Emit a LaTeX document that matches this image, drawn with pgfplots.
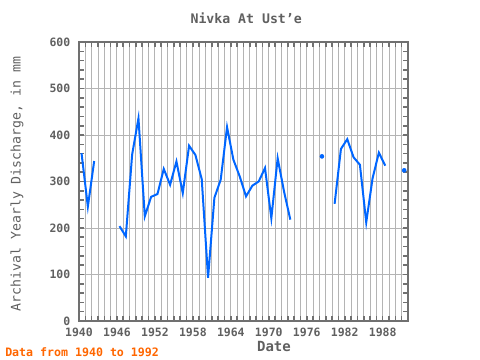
\documentclass[border=0pt]{standalone}
\usepackage{pgfplots}
\pgfplotsset{compat=1.18}
\usepackage{pgfplotstable}
\usepackage{fontspec}
\setmainfont{DejaVu Sans Mono}
\definecolor{lineblue}{HTML}{0066FF}
\definecolor{framegray}{HTML}{707070}
\definecolor{gridgray}{HTML}{B4B4B4}
\definecolor{txtgray}{HTML}{606060}
\definecolor{noteorange}{HTML}{FF6600}
\pgfplotstableread{
year val
1940 361
1941 246
1942 344
1943 nan
1946 204
1947 182
1948 358
1949 436
1950 225
1951 267
1952 273
1953 327
1954 293
1955 343
1956 275
1957 377
1958 357
1959 305
1960 93
1961 265
1962 304
1963 417
1964 347
1965 311
1966 268
1967 291
1968 300
1969 329
1970 221
1971 350
1972 279
1973 218
1974 nan
1980 252
1981 370
1982 391
1983 352
1984 336
1985 212
1986 307
1987 362
1988 334
}\maindata
\pgfplotstableread{
year val
1978 354
1991 324
}\isodata
\begin{document}
\begin{tikzpicture}
\path[use as bounding box] (-59.25pt,-29.25pt) rectangle (300.75pt,240.75pt);
\begin{axis}[
  at={(0,0)}, anchor=south west,
  scale only axis,
  width=246.75pt, height=209.25pt,
  xmin=1940, xmax=1992,
  ymin=0, ymax=600,
  xtick={1940,1946,1952,1958,1964,1970,1976,1982,1988},
  minor xtick={1940,1941,...,1992},
  ytick={0,100,200,300,400,500,600},
  minor ytick={0,20,...,600},
  xmajorgrids, xminorgrids, ymajorgrids,
  major grid style={draw=gridgray, line width=0.7pt},
  minor grid style={draw=gridgray, line width=0.7pt},
  tick align=inside,
  xtick pos=both, ytick pos=both,
  major tick length=4pt,
  minor tick length=3.5pt,
  major tick style={draw=framegray, line width=1.2pt},
  minor tick style={draw=framegray, line width=1.2pt},
  axis line style={framegray, line width=1.5pt},
  /pgf/number format/assume math mode=true,
  /pgf/number format/1000 sep={},
  tick label style={font=\fontsize{8.6}{10}\selectfont\bfseries, text=txtgray},
  yticklabel style={xshift=-3pt},
  xticklabel style={yshift=-2pt},
  unbounded coords=jump,
  clip=false,
]
\addplot[lineblue, line width=1.5pt, no marks] table[x expr=\thisrow{year}+0.4, y=val]{\maindata};
\addplot[lineblue, only marks, mark=*, mark size=1.5pt, mark options={draw=lineblue, fill=lineblue}] table[x expr=\thisrow{year}+0.4, y=val]{\isodata};
\end{axis}
\node[font=\fontsize{9.9}{12}\selectfont\bfseries, text=txtgray] at (125.4pt,227.3pt) {Nivka At Ust'e};
\node[font=\fontsize{9.9}{12}\selectfont, text=txtgray, rotate=90] at (-46.5pt,102.75pt) {Archival Yearly Discharge, in mm};
\node[font=\fontsize{10.5}{12}\selectfont\bfseries, text=txtgray] at (146.25pt,-19.5pt) {Date};
\node[font=\fontsize{8.7}{10}\selectfont\bfseries, text=noteorange, anchor=west, inner sep=0pt] at (-55.5pt,-23.25pt) {Data from 1940 to 1992};
\end{tikzpicture}
\end{document}
